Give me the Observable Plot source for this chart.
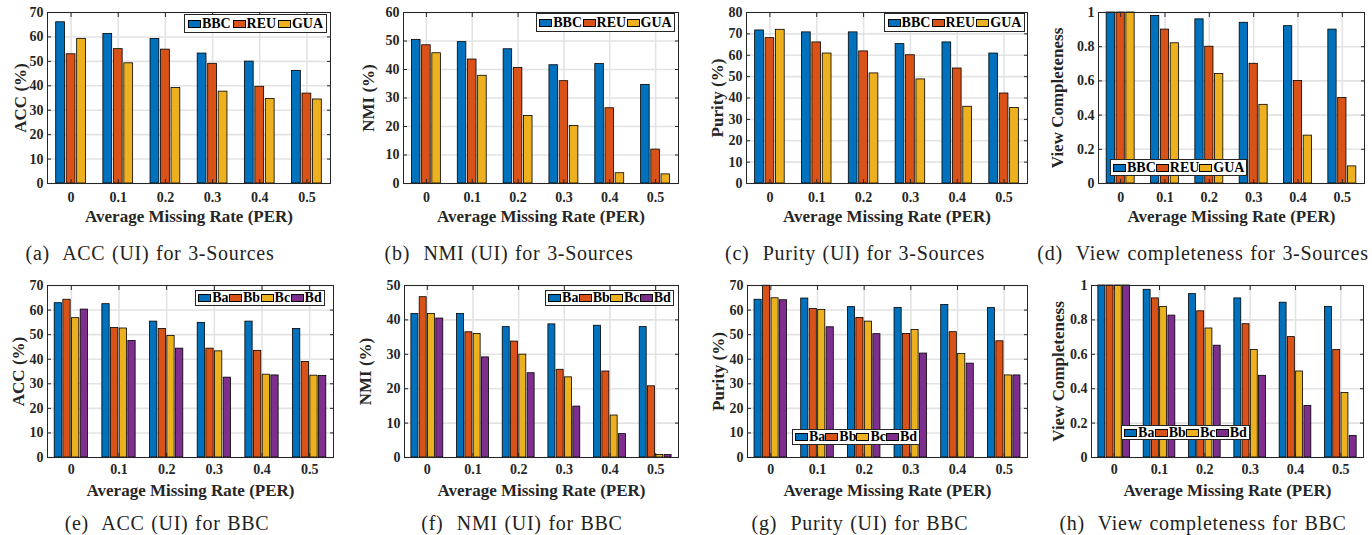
<!DOCTYPE html>
<html>
<head>
<meta charset="utf-8">
<script src="https://cdn.jsdelivr.net/npm/d3@7"></script>
<script src="https://cdn.jsdelivr.net/npm/@observablehq/plot@0.6"></script>
<style>
  html, body { margin: 0; padding: 0; background: #fff; }
  body { width: 1372px; height: 535px; position: relative; overflow: hidden;
         font-family: "Liberation Serif", "Times New Roman", serif; }
  .panel { position: absolute; }
  .panel svg { display: block; max-width: none; }
  .caption { position: absolute; font-size: 20px; line-height: 20px; white-space: pre;
             color: #222; transform: translateX(-50%); letter-spacing: 0.7px; word-spacing: 1px; }
  .legend { position: absolute; box-sizing: border-box; border: 1px solid #262626; background: #fff;
            display: flex; align-items: center; justify-content: space-around; padding: 0 2px;
            font-weight: bold; font-size: 14px; line-height: 14px; color: #000; }
  .legend .item { display: flex; align-items: center; }
  .legend .sw { display: inline-block; width: 11px; height: 6px; border: 1px solid #000; margin-right: 1px; }
</style>
</head>
<body>
<script>
// ---------------- data ----------------
const per = [0, 0.1, 0.2, 0.3, 0.4, 0.5];
const perLabels = ["0", "0.1", "0.2", "0.3", "0.4", "0.5"];
const seriesSources = ["BBC", "REU", "GUA"];
const seriesBBC = ["Ba", "Bb", "Bc", "Bd"];
const palette = ["#0072BD", "#D95319", "#EDB120", "#7E2F8E"];

const ticks70 = [0, 10, 20, 30, 40, 50, 60, 70];
const ticks60 = [0, 10, 20, 30, 40, 50, 60];
const ticks80 = [0, 10, 20, 30, 40, 50, 60, 70, 80];
const ticks50 = [0, 10, 20, 30, 40, 50];
const ticksUnit = [0, 0.2, 0.4, 0.6, 0.8, 1];

// (a) ACC (UI) for 3-Sources  — rows: BBC, REU, GUA
const accSources = [
  [66.0, 61.2, 59.2, 53.2, 49.9, 46.1],
  [52.9, 55.0, 54.8, 49.0, 39.6, 36.8],
  [59.2, 49.2, 39.1, 37.6, 34.6, 34.4]
];
// (b) NMI (UI) for 3-Sources
const nmiSources = [
  [50.4, 49.6, 47.1, 41.5, 41.9, 34.6],
  [48.5, 43.5, 40.5, 35.9, 26.4, 11.9],
  [45.7, 37.8, 23.7, 20.2, 3.6, 3.2]
];
// (c) Purity (UI) for 3-Sources
const puritySources = [
  [71.6, 70.7, 70.7, 65.2, 66.0, 60.8],
  [68.0, 66.0, 61.8, 60.0, 53.8, 42.1],
  [71.9, 60.8, 51.5, 48.7, 35.9, 35.3]
];
// (d) View completeness for 3-Sources
const completeSources = [
  [1, 0.98, 0.96, 0.94, 0.92, 0.90],
  [1, 0.90, 0.80, 0.70, 0.60, 0.50],
  [1, 0.82, 0.64, 0.46, 0.28, 0.10]
];
// (e) ACC (UI) for BBC — rows: Ba, Bb, Bc, Bd
const accBBC = [
  [62.8, 62.4, 55.3, 54.8, 55.3, 52.3],
  [64.2, 52.7, 52.3, 44.3, 43.4, 38.9],
  [56.7, 52.5, 49.5, 43.2, 33.7, 33.3],
  [60.2, 47.4, 44.3, 32.5, 33.4, 33.2]
];
// (f) NMI (UI) for BBC
const nmiBBC = [
  [41.7, 41.7, 37.9, 38.7, 38.3, 37.9],
  [46.6, 36.4, 33.7, 25.5, 25.0, 20.7],
  [41.7, 35.9, 29.9, 23.3, 12.2, 0.7],
  [40.4, 29.1, 24.5, 14.8, 6.8, 0.7]
];
// (g) Purity (UI) for BBC
const purityBBC = [
  [64.2, 64.7, 61.2, 60.9, 62.1, 60.8],
  [69.9, 60.4, 56.8, 50.3, 51.0, 47.3],
  [64.8, 60.1, 55.3, 51.9, 42.1, 33.4],
  [64.0, 53.0, 50.2, 42.3, 38.2, 33.4]
];
// (h) View completeness for BBC
const completeBBC = [
  [1, 0.975, 0.950, 0.925, 0.900, 0.875],
  [1, 0.925, 0.850, 0.775, 0.700, 0.625],
  [1, 0.875, 0.750, 0.625, 0.500, 0.375],
  [1, 0.825, 0.650, 0.475, 0.300, 0.125]
];

const xTitle = "Average Missing Rate (PER)";

// ---------------- panels ----------------
const panels = [
  {values: accSources, series: seriesSources, yMax: 70, yTicks: ticks70, yLabel: "ACC (%)",
   caption: "(a)  ACC (UI) for 3-Sources",
   L: {left: 0, top: 0, ml: 47, frameRight: 330, mt: 12, frameBottom: 183, ytx: 20, pad: 9},
   cap: {cx: 150, top: 243}, leg: {left: 184, top: 14, w: 143, h: 19}},
  {values: nmiSources, series: seriesSources, yMax: 60, yTicks: ticks60, yLabel: "NMI (%)",
   caption: "(b)  NMI (UI) for 3-Sources",
   L: {left: 345, top: 0, ml: 58, frameRight: 333, mt: 12, frameBottom: 183, ytx: 23, pad: 9},
   cap: {cx: 509, top: 243}, leg: {left: 536, top: 13, w: 139, h: 19}},
  {values: puritySources, series: seriesSources, yMax: 80, yTicks: ticks80, yLabel: "Purity (%)",
   caption: "(c)  Purity (UI) for 3-Sources",
   L: {left: 690, top: 0, ml: 56, frameRight: 337, mt: 12, frameBottom: 183, ytx: 27, pad: 9},
   cap: {cx: 855, top: 243}, leg: {left: 884, top: 13, w: 141, h: 19}},
  {values: completeSources, series: seriesSources, yMax: 1, yTicks: ticksUnit, yLabel: "View Completeness",
   caption: "(d)  View completeness for 3-Sources",
   L: {left: 1030, top: 0, ml: 68, frameRight: 334, mt: 12, frameBottom: 183, ytx: 27, pad: 9},
   cap: {cx: 1203, top: 243}, leg: {left: 1110, top: 159, w: 137, h: 17}},
  {values: accBBC, series: seriesBBC, yMax: 70, yTicks: ticks70, yLabel: "ACC (%)",
   caption: "(e)  ACC (UI) for BBC",
   L: {left: 0, top: 270, ml: 47, frameRight: 333, mt: 15, frameBottom: 187, ytx: 18, pad: 7},
   cap: {cx: 167, top: 513}, leg: {left: 195, top: 290, w: 130, h: 16}},
  {values: nmiBBC, series: seriesBBC, yMax: 50, yTicks: ticks50, yLabel: "NMI (%)",
   caption: "(f)  NMI (UI) for BBC",
   L: {left: 345, top: 270, ml: 59, frameRight: 333, mt: 15, frameBottom: 187, ytx: 20, pad: 7},
   cap: {cx: 522, top: 513}, leg: {left: 545, top: 290, w: 129, h: 16}},
  {values: purityBBC, series: seriesBBC, yMax: 70, yTicks: ticks70, yLabel: "Purity (%)",
   caption: "(g)  Purity (UI) for BBC",
   L: {left: 690, top: 270, ml: 57, frameRight: 337, mt: 15, frameBottom: 187, ytx: 28, pad: 7},
   cap: {cx: 860, top: 513}, leg: {left: 792, top: 429, w: 128, h: 16}},
  {values: completeBBC, series: seriesBBC, yMax: 1, yTicks: ticksUnit, yLabel: "View Completeness",
   caption: "(h)  View completeness for BBC",
   L: {left: 1030, top: 270, ml: 61, frameRight: 333, mt: 15, frameBottom: 187, ytx: 28, pad: 7},
   cap: {cx: 1203, top: 513}, leg: {left: 1121, top: 425, w: 129, h: 15}}
];

function drawPanel(cfg) {
  const n = cfg.series.length;
  const colors = palette.slice(0, n);
  // MATLAB grouped bar geometry (in units of the 0.1 PER spacing)
  const groupWidth = Math.min(0.8, n / (n + 1.5));
  const pitch = groupWidth / n * 0.1;
  const bw = pitch * 0.84;
  const rows = [];
  cfg.values.forEach((arr, si) => arr.forEach((v, j) => rows.push({series: cfg.series[si], si, per: per[j], v})));
  const L = cfg.L;
  const mr = 5, mb = 50;
  const width = L.frameRight + mr;
  const height = L.frameBottom + mb;
  const gridColor = "#e3e3e3";
  const axisColor = "#262626";
  const plot = Plot.plot({
    width, height,
    marginLeft: L.ml, marginRight: mr, marginTop: L.mt, marginBottom: mb,
    style: {fontFamily: "'Liberation Serif', 'Times New Roman', serif", fontWeight: "bold", fontSize: "14px",
            color: axisColor, background: "transparent"},
    x: {domain: [-0.05, 0.55]},
    y: {domain: [0, cfg.yMax]},
    color: {domain: cfg.series, range: colors},
    marks: [
      Plot.gridY(cfg.yTicks, {stroke: gridColor, strokeOpacity: 1, strokeWidth: 1.6}),
      Plot.gridX(per, {stroke: gridColor, strokeOpacity: 1, strokeWidth: 1.6}),
      Plot.rect(rows, {
        x1: d => d.per + (d.si - (n - 1) / 2) * pitch - bw / 2,
        x2: d => d.per + (d.si - (n - 1) / 2) * pitch + bw / 2,
        y1: d => 0, y2: "v",
        fill: "series", stroke: "#000", strokeWidth: 0.8
      }),
      // inward tick marks on all four sides
      Plot.axisY(cfg.yTicks, {anchor: "left", tickSize: -4, tickFormat: () => "", label: null, stroke: axisColor}),
      Plot.axisY(cfg.yTicks, {anchor: "right", tickSize: -4, tickFormat: () => "", label: null, stroke: axisColor}),
      Plot.axisX(per, {anchor: "bottom", tickSize: -4, tickFormat: () => "", label: null, stroke: axisColor}),
      Plot.axisX(per, {anchor: "top", tickSize: -4, tickFormat: () => "", label: null, stroke: axisColor}),
      // tick labels
      Plot.axisY(cfg.yTicks, {anchor: "left", tickSize: 0, tickPadding: 4, label: null, fill: axisColor,
                              tickFormat: d => String(d)}),
      Plot.axisX(per, {anchor: "bottom", tickSize: 0, tickPadding: L.pad, label: null, fill: axisColor,
                       tickFormat: d => perLabels[per.indexOf(d)]}),
      Plot.frame({stroke: axisColor, strokeWidth: 1}),
      // axis titles
      Plot.text([cfg.yLabel], {text: d => d, frameAnchor: "left", rotate: -90, dx: -(L.ml - L.ytx),
                               textAnchor: "middle", lineAnchor: "middle",
                               fontSize: 17, fontWeight: "bold", fill: axisColor}),
      Plot.text([xTitle], {text: d => d, frameAnchor: "bottom", dy: 33, textAnchor: "middle", lineAnchor: "middle",
                           fontSize: 17, fontWeight: "bold", fill: axisColor})
    ]
  });
  const div = document.createElement("div");
  div.className = "panel";
  div.style.left = L.left + "px";
  div.style.top = L.top + "px";
  div.style.width = width + "px";
  div.style.height = height + "px";
  div.appendChild(plot);
  document.body.appendChild(div);

  // legend (built from the series names and the plot's colour scale)
  const scale = plot.scale("color");
  const leg = document.createElement("div");
  leg.className = "legend";
  Object.assign(leg.style, {left: cfg.leg.left + "px", top: cfg.leg.top + "px",
                            width: cfg.leg.w + "px", height: cfg.leg.h + "px"});
  cfg.series.forEach((s) => {
    const item = document.createElement("span");
    item.className = "item";
    const sw = document.createElement("span");
    sw.className = "sw";
    sw.style.background = scale.apply(s);
    const t = document.createElement("span");
    t.textContent = s;
    item.appendChild(sw);
    item.appendChild(t);
    leg.appendChild(item);
  });
  document.body.appendChild(leg);

  // caption
  const cap = document.createElement("div");
  cap.className = "caption";
  cap.style.left = cfg.cap.cx + "px";
  cap.style.top = cfg.cap.top + "px";
  cap.textContent = cfg.caption;
  document.body.appendChild(cap);
}

panels.forEach(drawPanel);
</script>
</body>
</html>
